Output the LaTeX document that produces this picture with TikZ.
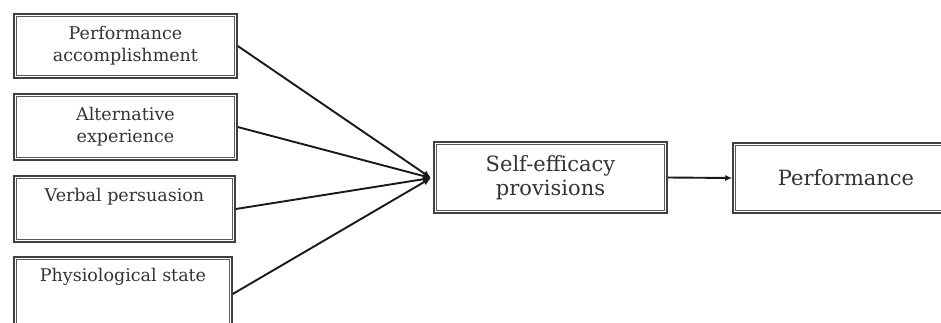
\documentclass[tikz,border=0pt]{standalone}
\usepackage{fontspec}
\setmainfont{DejaVu Serif}
\usetikzlibrary{arrows.meta}
\tikzset{
  dbox/.style={draw=black!75, line width=1.5pt, rectangle, inner sep=0pt,
    text=black!80, align=center},
  inner/.style={draw=black!65, line width=0.8pt},
  small/.style={font=\fontsize{17.5}{22}\selectfont},
  big/.style={font=\fontsize{21}{24}\selectfont},
  conn/.style={line width=1.9pt, draw=black!90},
  tip/.style={-{Latex[length=8pt,width=7pt]}}
}
\begin{document}
\begin{tikzpicture}[x=1pt,y=-1pt]
\useasboundingbox (0,0) rectangle (941,322);
\node[dbox, small, minimum width=223pt, minimum height=64pt] (b1) at (125.5,46) {Performance\\accomplishment};
\node[dbox, small, minimum width=223pt, minimum height=66pt] (b2) at (125.5,127) {Alternative\\experience};
\node[dbox, minimum width=221pt, minimum height=66pt] (b3) at (124.5,209) {};
\node[dbox, minimum width=218pt, minimum height=70pt] (b4) at (123,292) {};
\node[small, text=black!80, anchor=base] (t3) at ([yshift=-26pt]b3.north) {Verbal persuasion};
\node[small, text=black!80, anchor=base] (t4) at ([yshift=-25pt]b4.north) {Physiological state};
\node[dbox, big, minimum width=233pt, minimum height=71pt] (se) at (550.5,177.5) {Self-efficacy\\provisions};
\node[dbox, big, minimum width=226pt, minimum height=70pt] (pf) at (846,178) {Performance};
\foreach \n in {b1,b2,b3,b4,se,pf}{
  \draw[inner] ([shift={(2.9pt,-2.9pt)}]\n.north west) rectangle ([shift={(-2.9pt,2.9pt)}]\n.south east);
}
\coordinate (conv) at (431,178);
\draw[conn, tip] (b1.east) -- (conv);
\draw[conn, tip] (b2.east) -- (conv);
\draw[conn, tip] (b3.east) -- (conv);
\draw[conn, tip] ([yshift=-2pt]b4.east) -- (conv);
\draw[conn, -{Latex[length=7pt,width=6pt]}] (se.east) -- (pf.west);
\end{tikzpicture}
\end{document}
